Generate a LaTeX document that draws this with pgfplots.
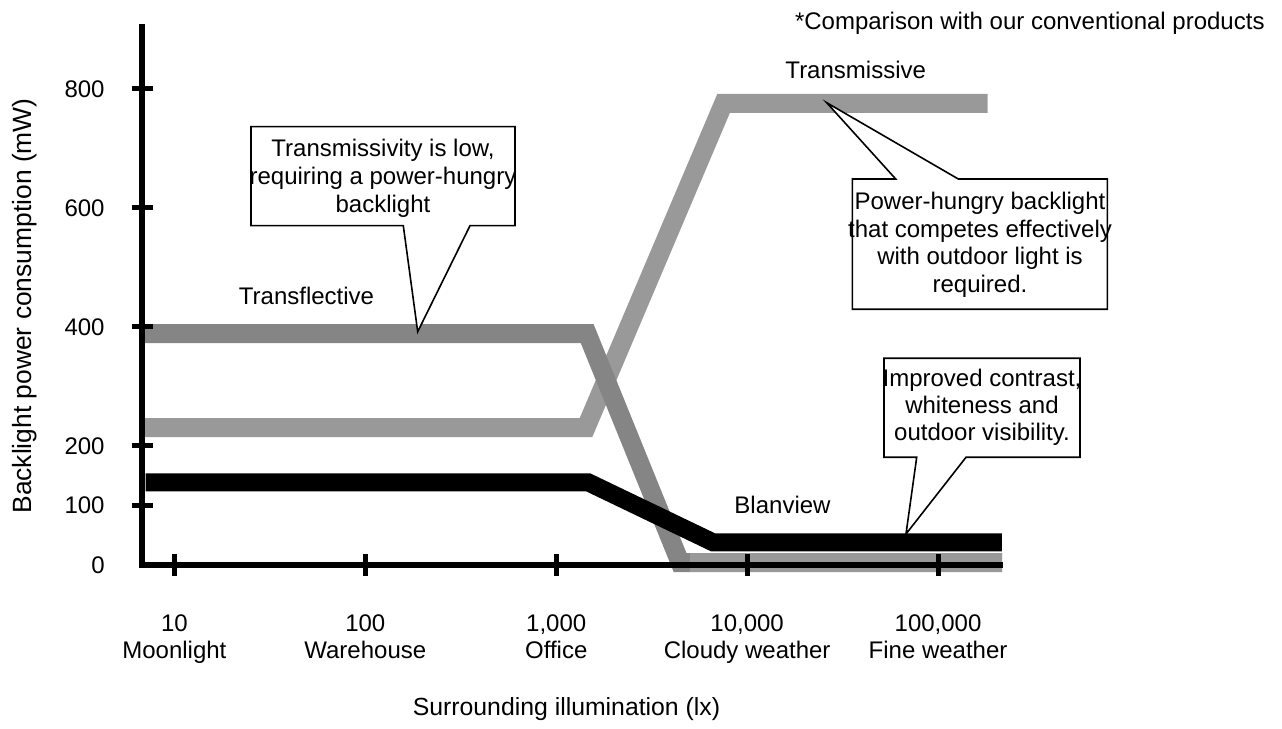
\documentclass[border=0pt]{standalone}
\usepackage{fontspec}
\setmainfont{Liberation Sans}
\usepackage{pgfplots}
\pgfplotsset{compat=1.18}
\definecolor{tmgray}{HTML}{999999}
\definecolor{tfgray}{HTML}{858585}
\begin{document}
\fontsize{12}{13.75}\selectfont
\begin{tikzpicture}
\path[use as bounding box] (0pt,0pt) rectangle (641pt,364.5pt);
\begin{axis}[
  at={(71.25pt,82pt)}, anchor=south west,
  scale only axis, width=428.9pt, height=268.85pt,
  xmin=0.833, xmax=5.326, ymin=0, ymax=903.7,
  axis lines*=left,
  axis line style={line width=3pt, line cap=rect, black},
  axis on top,
  clip=false,
  tick align=center,
  major tick length=11pt,
  major tick style={line width=2.5pt, black},
  xtick={1,2,3,4,5},
  xticklabels={{10\\Moonlight},{100\\Warehouse},{1,000\\Office},{10,000\\Cloudy weather},{100,000\\Fine weather}},
  xticklabel style={align=center, anchor=north, inner sep=0pt, yshift=-19pt},
  ytick={100,200,400,600,800},
  yticklabels={100,200,400,600,800},
  yticklabel style={anchor=east, inner sep=0pt, xshift=-13.25pt},
  extra y ticks={0},
  extra y tick labels={0},
  extra y tick style={major tick style={draw=none}},
]
% Transmissive
\addplot[tmgray, line width=9.5pt, line join=miter] coordinates {(0.833,231) (3.156,231) (3.877,776) (5.260,776)};
% Transflective
\addplot[tfgray, line width=9.5pt, line join=miter] coordinates {(0.833,389) (3.162,389) (3.649,4) (5.335,4)};
\addplot[tmgray, line width=9.5pt] coordinates {(3.70,4) (5.335,4)};
% Blanview
\addplot[black, line width=9pt, line join=miter] coordinates {(0.85,139) (3.167,139) (3.822,38) (5.334,38)};
\end{axis}
\begin{scope}[x=0.5pt,y=-0.5pt,shift={(0pt,364.5pt)}]
% callout 1
\draw[line width=0.8pt, fill=white] (251,126.7) -- (515,126.7) -- (515,225.7) -- (470,225.7) -- (417.7,331.7) -- (403.3,225.7) -- (251,225.7) -- cycle;
\node[anchor=base] at (383,156.7) {Transmissivity is low,};
\node[anchor=base] at (383,184.2) {requiring a power-hungry};
\node[anchor=base] at (383,212.7) {backlight};
% callout 2
\draw[line width=0.8pt, fill=white] (852.3,179) -- (895.7,179) -- (826.7,102.7) -- (958.3,179) -- (1107.3,179) -- (1107.3,309.3) -- (852.3,309.3) -- cycle;
\node[anchor=base] at (980,210) {Power-hungry backlight};
\node[anchor=base] at (980,237.5) {that competes effectively};
\node[anchor=base] at (980,265) {with outdoor light is};
\node[anchor=base] at (980,292.5) {required.};
% callout 3
\draw[line width=0.8pt, fill=white] (884,358.3) -- (1080,358.3) -- (1080,457.3) -- (966,457.3) -- (906,534) -- (916.7,457.3) -- (884,457.3) -- cycle;
\node[anchor=base] at (982,386.7) {Improved contrast,};
\node[anchor=base] at (982,413.5) {whiteness and};
\node[anchor=base] at (982,440.5) {outdoor visibility.};
% series labels
\node[anchor=base] at (306.5,305) {Transflective};
\node[anchor=base] at (855.7,79) {Transmissive};
\node[anchor=base] at (782.5,513.3) {Blanview};
\node[anchor=base east, inner sep=0pt] at (1265,30) {*Comparison with our conventional products};
% axis titles
\node[anchor=base] at (566.5,716) {\fontsize{12.4}{14}\selectfont Surrounding illumination (lx)};
\node[anchor=base, rotate=90] at (31.5,306) {\fontsize{13.2}{15}\selectfont Backlight power consumption (mW)};
\end{scope}
\end{tikzpicture}
\end{document}
